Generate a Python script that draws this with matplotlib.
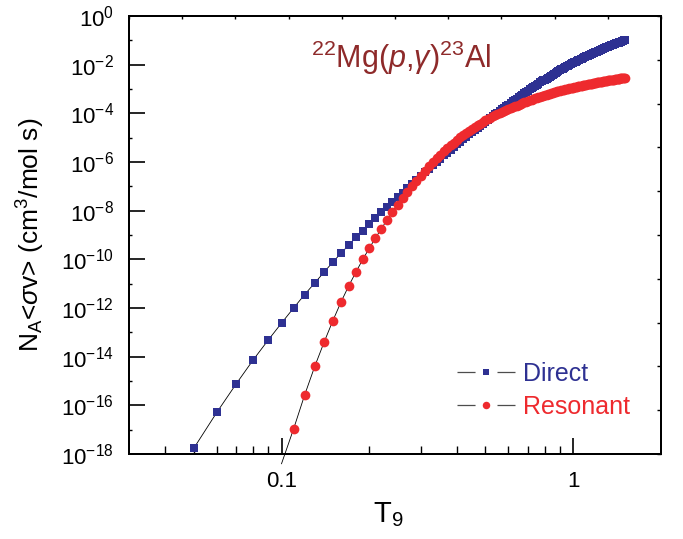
import numpy as np
import matplotlib

matplotlib.use("Agg")
import matplotlib.pyplot as plt
from matplotlib.lines import Line2D
from matplotlib.ticker import FixedFormatter, FixedLocator, LogFormatterSciNotation, NullFormatter

plt.rcParams["font.family"] = ["Liberation Sans", "DejaVu Sans"]
plt.rcParams["mathtext.fontset"] = "custom"
plt.rcParams["mathtext.rm"] = "Liberation Sans"
plt.rcParams["mathtext.it"] = "Liberation Sans:italic"
plt.rcParams["mathtext.bf"] = "Liberation Sans:bold"
plt.rcParams["lines.scale_dashes"] = False

BLUE = "#2e3192"
RED = "#ee2a2e"
DARK_RED = "#8e2a2a"

# temperature grid of the table (T9, step 0.01)
T9_DIRECT = np.round(np.arange(0.05, 1.505, 0.01), 2)
T9_RESONANT = np.round(np.arange(0.10, 1.505, 0.01), 2)

# log10 of the rates
LOG_DIRECT = [
    -17.77, -16.29, -15.11, -14.13, -13.32,
    -12.62, -12.00, -11.45, -10.97, -10.52, -10.11, -9.75, -9.41, -9.10, -8.82,
    -8.55, -8.31, -8.07, -7.85, -7.64, -7.45, -7.26, -7.08, -6.91, -6.75,
    -6.59, -6.43, -6.28, -6.14, -5.99, -5.86, -5.73, -5.61, -5.49, -5.37,
    -5.26, -5.16, -5.05, -4.96, -4.86, -4.76, -4.68, -4.59, -4.51, -4.42,
    -4.34, -4.27, -4.19, -4.11, -4.04, -3.97, -3.90, -3.83, -3.77, -3.70,
    -3.64, -3.58, -3.51, -3.46, -3.40, -3.34, -3.28, -3.23, -3.17, -3.12,
    -3.07, -3.02, -2.97, -2.92, -2.87, -2.83, -2.78, -2.73, -2.69, -2.65,
    -2.61, -2.57, -2.53, -2.49, -2.45, -2.41, -2.37, -2.34, -2.30, -2.26,
    -2.23, -2.19, -2.16, -2.13, -2.10, -2.07, -2.04, -2.01, -1.98, -1.95,
    -1.92, -1.89, -1.87, -1.85, -1.82, -1.80, -1.77, -1.75, -1.73, -1.70,
    -1.68, -1.66, -1.64, -1.62, -1.60, -1.57, -1.55, -1.53, -1.51, -1.49,
    -1.47, -1.46, -1.44, -1.42, -1.40, -1.38, -1.36, -1.35, -1.33, -1.31,
    -1.29, -1.28, -1.26, -1.24, -1.23, -1.21, -1.20, -1.18, -1.16, -1.15,
    -1.13, -1.12, -1.10, -1.09, -1.07, -1.06, -1.05, -1.03, -1.02, -1.00,
    -0.99,
]

LOG_RESONANT = [
    -18.40, -16.97, -15.58, -14.40, -13.40, -12.52, -11.75, -11.09, -10.52, -10.00,
    -9.54, -9.12, -8.74, -8.38, -8.05, -7.75, -7.47, -7.22, -6.99, -6.77,
    -6.56, -6.37, -6.18, -6.01, -5.85, -5.70, -5.56, -5.43, -5.31, -5.20,
    -5.09, -4.99, -4.89, -4.80, -4.71, -4.63, -4.55, -4.48, -4.42, -4.35,
    -4.29, -4.24, -4.18, -4.13, -4.08, -4.03, -3.98, -3.94, -3.90, -3.86,
    -3.82, -3.78, -3.74, -3.71, -3.68, -3.64, -3.61, -3.58, -3.55, -3.52,
    -3.49, -3.46, -3.44, -3.41, -3.39, -3.36, -3.34, -3.31, -3.29, -3.27,
    -3.25, -3.23, -3.21, -3.19, -3.17, -3.15, -3.14, -3.12, -3.10, -3.09,
    -3.07, -3.06, -3.04, -3.03, -3.01, -3.00, -2.99, -2.97, -2.96, -2.95,
    -2.94, -2.93, -2.92, -2.90, -2.89, -2.88, -2.87, -2.86, -2.85, -2.84,
    -2.83, -2.82, -2.81, -2.80, -2.79, -2.79, -2.78, -2.77, -2.76, -2.75,
    -2.74, -2.73, -2.73, -2.72, -2.71, -2.70, -2.70, -2.69, -2.68, -2.67,
    -2.67, -2.66, -2.65, -2.65, -2.64, -2.63, -2.62, -2.62, -2.61, -2.60,
    -2.60, -2.59, -2.58, -2.58, -2.57, -2.56, -2.56, -2.55, -2.55, -2.54,
    -2.53,
]

X_MAJOR = [0.1, 1.0]
X_MAJOR_LABELS = ["0.1", "1"]
X_MINOR = [0.04, 0.05, 0.06, 0.07, 0.08, 0.09, 0.2, 0.3, 0.4, 0.5, 0.6, 0.7, 0.8, 0.9]
Y_MAJOR = [1e0, 1e-2, 1e-4, 1e-6, 1e-8, 1e-10, 1e-12, 1e-14, 1e-16, 1e-18]
Y_MINOR = [1e-1, 1e-3, 1e-5, 1e-7, 1e-9, 1e-11, 1e-13, 1e-15, 1e-17]
LEGEND_LABELS = ["Direct", "Resonant"]

W, H = 683, 539
fig = plt.figure(figsize=(W / 100, H / 100), dpi=100)
ax = fig.add_axes([129 / W, 85 / H, 532 / W, 438 / H])

# Origin-style plain ticks on the top and right frame
top = ax.twiny()
right = ax.twinx()

ax.plot(T9_DIRECT, 10.0 ** np.array(LOG_DIRECT), color="black", lw=0.6,
        marker="s", ms=5.8, mfc=BLUE, mec=BLUE, mew=0, zorder=3)
ax.plot(T9_RESONANT, 10.0 ** np.array(LOG_RESONANT), color="black", lw=0.6,
        marker="o", ms=7.0, mfc=RED, mec=RED, mew=0, markevery=slice(1, None),
        clip_on=False, zorder=4)

ax.set_xscale("log")
ax.set_yscale("log")
ax.set_xlim(0.03, 2)
ax.set_ylim(1e-18, 1)

ax.xaxis.set_major_locator(FixedLocator(X_MAJOR))
ax.xaxis.set_major_formatter(FixedFormatter(X_MAJOR_LABELS))
ax.xaxis.set_minor_locator(FixedLocator(X_MINOR))
ax.xaxis.set_minor_formatter(NullFormatter())
ax.yaxis.set_major_locator(FixedLocator(Y_MAJOR))
ax.yaxis.set_major_formatter(LogFormatterSciNotation())
ax.yaxis.set_minor_locator(FixedLocator(Y_MINOR))
ax.yaxis.set_minor_formatter(NullFormatter())

ax.tick_params(which="major", direction="in", length=11.5, width=1.2, labelsize=16)
ax.tick_params(axis="x", which="major", pad=12)
ax.tick_params(axis="y", which="major", pad=11)
ax.tick_params(axis="x", which="minor", direction="in", length=5.8, width=1.0)
ax.tick_params(axis="y", which="minor", direction="in", length=2.2, width=1.0)

top.set_xlim(0, 1)
top.set_xticks(np.linspace(0, 1, 11))
top.tick_params(axis="x", direction="in", length=2.5, width=1.0, labeltop=False)
right.set_ylim(0, 1)
right.set_yticks(np.linspace(0, 1, 11))
right.tick_params(axis="y", direction="in", length=3, width=1.0, labelright=False)

for a in (ax, top, right):
    for spine in a.spines.values():
        spine.set_linewidth(1.3)

handles = [
    Line2D([], [], color="#4d4d4d", lw=0.9, ls=(0, (13, 15.8)),
           marker="s", ms=4.6, mfc=BLUE, mec=BLUE, mew=0),
    Line2D([], [], color="#4d4d4d", lw=0.9, ls=(0, (13, 15.8)),
           marker="o", ms=5.4, mfc=RED, mec=RED, mew=0),
]
leg = ax.legend(handles, LEGEND_LABELS, loc="center left",
                bbox_to_anchor=((457 - 129) / 532, (454 - 390.5) / 438),
                frameon=False, fontsize=18, handlelength=41.8 / 18,
                handletextpad=0.32, borderpad=0, borderaxespad=0,
                labelspacing=0.35, numpoints=1)
for text, color in zip(leg.get_texts(), [BLUE, RED]):
    text.set_color(color)

fig.text(311 / W, 1 - 67.7 / H, r"$^{22}$Mg($\mathit{p}$,$\mathit{\gamma}$)$^{23}$Al",
         fontsize=22, color=DARK_RED, ha="left", va="baseline")
fig.text(388 / W, 1 - 522 / H, r"T$_9$", fontsize=21, ha="center", va="baseline")
fig.text(40 / W, 1 - 235 / H, r"N$_\mathrm{A}$<$\mathit{\sigma}$v> (cm$^3$/mol s)",
         fontsize=19, rotation=90, rotation_mode="anchor", ha="center", va="baseline")

fig.savefig("out.png", dpi=100)
